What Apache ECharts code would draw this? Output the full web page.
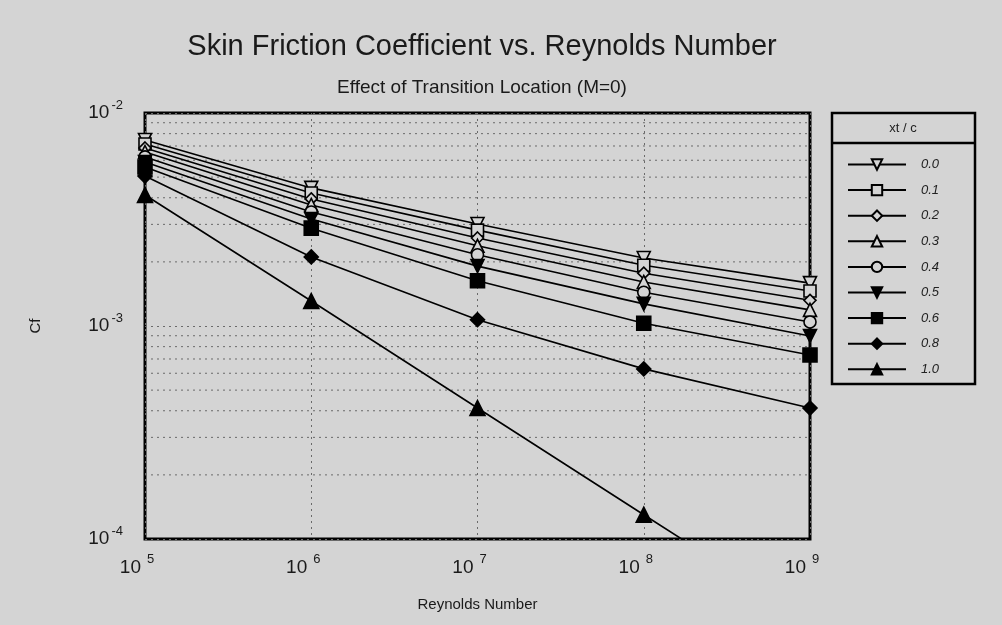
<!DOCTYPE html>
<html>
<head>
<meta charset="utf-8">
<script src="https://cdn.jsdelivr.net/npm/echarts@6/dist/echarts.min.js"></script>
<style>
html,body{margin:0;padding:0;background:#d4d4d4;}
#chart{width:1002px;height:625px;}
</style>
</head>
<body>
<div id="chart"></div>
<script>
// ---- data ----
var reynolds = [1e5, 1e6, 1e7, 1e8, 1e9];
var seriesNames = ['0.0', '0.1', '0.2', '0.3', '0.4', '0.5', '0.6', '0.8', '1.0'];
var cf00 = [7.47e-3, 4.45e-3, 3.01e-3, 2.085e-3, 1.59e-3];
var cf01 = [7.15e-3, 4.21e-3, 2.82e-3, 1.93e-3, 1.46e-3];
var cf02 = [6.85e-3, 3.95e-3, 2.59e-3, 1.77e-3, 1.32e-3];
var cf03 = [6.56e-3, 3.70e-3, 2.38e-3, 1.61e-3, 1.19e-3];
var cf04 = [6.22e-3, 3.43e-3, 2.16e-3, 1.44e-3, 1.045e-3];
var cf05 = [5.89e-3, 3.18e-3, 1.91e-3, 1.27e-3, 8.98e-4];
var cf06 = [5.58e-3, 2.88e-3, 1.63e-3, 1.03e-3, 7.31e-4];
var cf08 = [5.06e-3, 2.11e-3, 1.07e-3, 6.29e-4, 4.12e-4];
var cf10 = [4.12e-3, 1.31e-3, 4.12e-4, 1.30e-4, 4.12e-5];
var xExponents = ['5', '6', '7', '8', '9'];
var yExponents = ['-4', '-3', '-2'];
var minorGridY = [2e-4,3e-4,4e-4,5e-4,6e-4,7e-4,8e-4,9e-4,2e-3,3e-3,4e-3,5e-3,6e-3,7e-3,8e-3,9e-3];

var allCf = [cf00, cf01, cf02, cf03, cf04, cf05, cf06, cf08, cf10];
var BG = '#d4d4d4';
var symbols = [
  {symbol:'triangle', rotate:180, filled:false, size:13},
  {symbol:'rect', rotate:0, filled:false, size:12},
  {symbol:'diamond', rotate:0, filled:false, size:12},
  {symbol:'triangle', rotate:0, filled:false, size:13},
  {symbol:'circle', rotate:0, filled:false, size:12},
  {symbol:'triangle', rotate:180, filled:true, size:13},
  {symbol:'rect', rotate:0, filled:true, size:14},
  {symbol:'diamond', rotate:0, filled:true, size:14},
  {symbol:'triangle', rotate:0, filled:true, size:15}
];

var FONT = '"Liberation Sans", "DejaVu Sans", sans-serif';
var DOTS = {type:[2,4], color:'#6a6a6a', width:1};

var series = [];
// minor (2..9) horizontal grid lines, drawn through the axes
minorGridY.forEach(function(v){
  series.push({
    name: '_grid' + v,
    type: 'line',
    data: [[reynolds[0], v], [reynolds[reynolds.length - 1], v]],
    symbol: 'none',
    silent: true,
    z: 1,
    lineStyle: DOTS,
    emphasis: {disabled:true},
    animation: false
  });
});

seriesNames.forEach(function(name, i){
  var s = symbols[i];
  series.push({
    name: name,
    type: 'line',
    data: reynolds.map(function(x, j){ return [x, allCf[i][j]]; }),
    symbol: s.symbol,
    symbolRotate: s.rotate,
    symbolSize: s.size,
    showAllSymbol: true,
    clip: true,
    z: 3,
    lineStyle: {color:'#000', width:1.6},
    itemStyle: {color: s.filled ? '#000' : BG, borderColor:'#000', borderWidth:1.6, opacity:1},
    emphasis: {disabled:true},
    animation: false
  });
});

var expLabel = function(exps){
  return function(v){
    var e = Math.round(Math.log10(v));
    var txt = exps.filter(function(t){ return +t === e; })[0];
    return '{b|10}{s|' + (txt === undefined ? e : txt) + '}';
  };
};

var chart = echarts.init(document.getElementById('chart'), null, {renderer:'canvas'});
chart.setOption({
  backgroundColor: BG,
  animation: false,
  title: [
    {text:'Skin Friction Coefficient vs. Reynolds Number', left:477, top:27, textAlign:'center',
     textStyle:{fontFamily:FONT, fontSize:29, fontWeight:'normal', color:'#1a1a1a'}},
    {text:'Effect of Transition Location (M=0)', left:477, top:73, textAlign:'center',
     textStyle:{fontFamily:FONT, fontSize:19, fontWeight:'normal', color:'#1a1a1a'}}
  ],
  grid: {left:145, right:192, top:113, bottom:86, show:true, borderColor:'#000', borderWidth:3, backgroundColor:'transparent'},
  xAxis: {
    type:'log', logBase:10, min:1e5, max:1e9,
    name:'Reynolds Number', nameLocation:'middle', nameGap:58,
    nameTextStyle:{fontFamily:FONT, fontSize:15, color:'#1a1a1a'},
    axisLine:{show:false}, axisTick:{show:false},
    splitLine:{show:true, lineStyle:DOTS},
    axisLabel:{margin:14, formatter: expLabel(xExponents),
      rich:{b:{fontFamily:FONT, fontSize:19, color:'#1a1a1a'},
            s:{fontFamily:FONT, fontSize:13, color:'#1a1a1a', padding:[0,16,16,6]}}}
  },
  yAxis: {
    type:'log', logBase:10, min:1e-4, max:1e-2,
    name:'Cf', nameLocation:'middle', nameGap:102, nameRotate:90,
    nameTextStyle:{fontFamily:FONT, fontSize:15, color:'#1a1a1a'},
    axisLine:{show:false}, axisTick:{show:false},
    splitLine:{show:true, lineStyle:DOTS},
    axisLabel:{margin:22, formatter: expLabel(yExponents),
      rich:{b:{fontFamily:FONT, fontSize:19, color:'#1a1a1a'},
            s:{fontFamily:FONT, fontSize:13, color:'#1a1a1a', padding:[0,0,16,2]}}}
  },
  legend: {
    data: seriesNames,
    orient:'vertical', left:842, top:153,
    itemWidth:58, itemHeight:13, itemGap:12.6,
    textStyle:{fontFamily:FONT, fontSize:13, fontStyle:'italic', color:'#222', padding:[0,0,0,10]},
    selectedMode:false
  },
  graphic: [
    {type:'rect', shape:{x:832, y:113, width:143, height:271},
     style:{fill:'none', stroke:'#000', lineWidth:2.5}, z:10},
    {type:'line', shape:{x1:832, y1:143, x2:975, y2:143},
     style:{stroke:'#000', lineWidth:2.5}, z:10},
    {type:'text', x:903, y:128, style:{text:'xt / c', textAlign:'center', textVerticalAlign:'middle',
      font:'13px ' + FONT, fill:'#222'}, z:10}
  ],
  series: series
});
</script>
</body>
</html>
